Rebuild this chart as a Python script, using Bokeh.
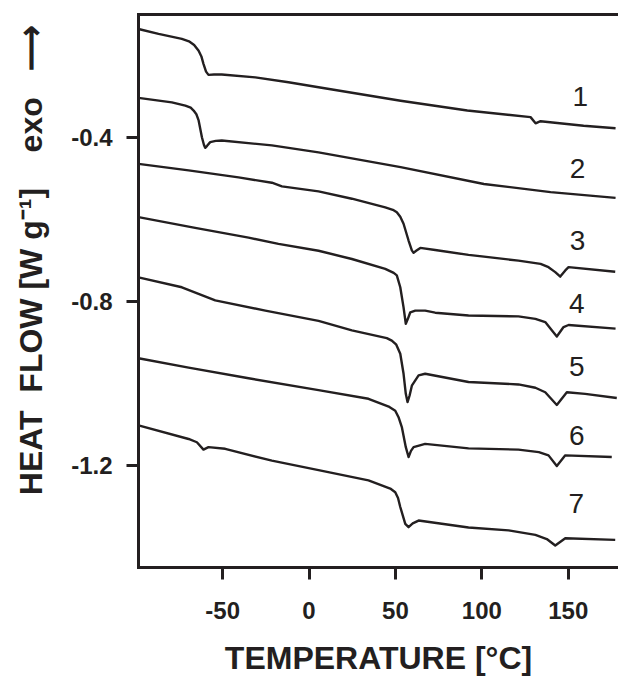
from bokeh.plotting import figure
from bokeh.models import Range1d, FixedTicker, LinearAxis
from bokeh.embed import file_html
from bokeh.resources import INLINE
from bokeh.core.properties import value

INK = "#231f20"

# ---- data (temperature in degC, heat flow in W/g) ----
temp_1 = [-98.7, -87.1, -73.6, -69.5, -66.5, -63.9, -62.3, -61.1, -59.6, -58.2, -55.0, -50.5, -31.1, -11.9, 5.5, 53.0, 91.6, 128.2, 131.1, 134.0, 158.9, 177.4]
flow_1 = [-0.136, -0.148, -0.160, -0.166, -0.175, -0.189, -0.203, -0.221, -0.240, -0.248, -0.247, -0.247, -0.254, -0.266, -0.278, -0.311, -0.335, -0.351, -0.366, -0.361, -0.372, -0.378]

temp_2 = [-98.7, -79.4, -71.6, -68.5, -66.8, -65.2, -63.9, -62.0, -60.8, -60.1, -59.0, -57.2, -54.0, -50.5, -21.5, 5.5, 53.0, 101.2, 139.8, 177.4]
flow_2 = [-0.304, -0.315, -0.323, -0.328, -0.335, -0.344, -0.359, -0.400, -0.419, -0.426, -0.421, -0.412, -0.409, -0.408, -0.420, -0.437, -0.473, -0.514, -0.534, -0.548]

temp_3 = [-98.7, -69.7, -40.8, -21.5, -15.7, 5.5, 24.8, 44.1, 48.5, 50.8, 52.8, 54.7, 57.6, 59.5, 60.5, 62.0, 64.4, 73.0, 92.3, 121.2, 134.0, 138.6, 142.5, 145.4, 148.3, 150.2, 177.2]
flow_3 = [-0.465, -0.481, -0.498, -0.511, -0.520, -0.532, -0.550, -0.571, -0.577, -0.583, -0.594, -0.611, -0.652, -0.676, -0.682, -0.677, -0.670, -0.675, -0.687, -0.701, -0.709, -0.717, -0.729, -0.740, -0.725, -0.717, -0.728]

temp_4 = [-98.7, -65.9, -35.0, -17.7, 5.5, 24.8, 44.1, 49.0, 50.8, 52.8, 54.7, 56.0, 57.2, 58.6, 61.5, 67.2, 73.0, 92.3, 121.2, 131.0, 136.7, 140.5, 143.4, 147.3, 150.2, 177.4]
flow_4 = [-0.595, -0.621, -0.645, -0.660, -0.677, -0.697, -0.721, -0.731, -0.737, -0.766, -0.815, -0.855, -0.843, -0.827, -0.823, -0.823, -0.828, -0.835, -0.837, -0.843, -0.851, -0.871, -0.886, -0.863, -0.858, -0.867]

temp_5 = [-98.7, -73.6, -54.3, -25.3, 5.5, 24.8, 45.0, 47.9, 50.5, 52.8, 54.7, 56.0, 57.0, 58.2, 59.5, 63.4, 67.2, 92.3, 121.2, 131.0, 136.7, 143.4, 149.2, 159.8, 178.1]
flow_5 = [-0.742, -0.766, -0.798, -0.823, -0.848, -0.871, -0.890, -0.896, -0.906, -0.928, -0.977, -1.026, -1.046, -1.030, -1.006, -0.981, -0.977, -0.997, -1.003, -1.011, -1.022, -1.053, -1.022, -1.026, -1.036]

temp_6 = [-98.7, -69.7, -35.0, 5.5, 34.4, 46.5, 49.9, 51.8, 53.7, 56.0, 57.6, 59.0, 60.5, 67.2, 92.3, 121.2, 133.0, 138.6, 143.4, 148.3, 175.2]
flow_6 = [-0.939, -0.962, -0.988, -1.017, -1.038, -1.058, -1.067, -1.083, -1.107, -1.156, -1.180, -1.165, -1.156, -1.148, -1.159, -1.162, -1.168, -1.176, -1.202, -1.176, -1.180]

temp_7 = [-98.7, -69.7, -64.9, -61.1, -58.2, -48.5, -21.5, 5.5, 34.4, 47.0, 49.9, 51.5, 52.8, 55.7, 57.6, 60.0, 63.4, 92.3, 115.5, 131.0, 137.6, 142.5, 148.3, 177.2]
flow_7 = [-1.103, -1.136, -1.144, -1.162, -1.156, -1.160, -1.189, -1.212, -1.237, -1.257, -1.266, -1.280, -1.302, -1.343, -1.351, -1.342, -1.335, -1.352, -1.359, -1.370, -1.380, -1.396, -1.378, -1.382]

curve_names = ["1", "2", "3", "4", "5", "6", "7"]
name_temp = [157.0, 155.4, 155.4, 155.0, 155.0, 155.0, 154.7]
name_flow = [-0.3015, -0.477, -0.652, -0.806, -0.959, -1.128, -1.294]

x_ticks = [-50, 0, 50, 100, 150]
x_tick_labels = ["-50", "0", "50", "100", "150"]
y_ticks = [-1.2, -0.8, -0.4]
y_tick_labels = ["-1.2", "-0.8", "-0.4"]

x_title = "TEMPERATURE [\u00b0C]"
NB = "\u00a0"
y_title = NB * 7 + "HEAT" + NB * 2 + "FLOW [W g\u207b\u00b9]" + NB * 4 + "exo" + NB * 3 + "\u27f6"

series = [(temp_1, flow_1), (temp_2, flow_2), (temp_3, flow_3), (temp_4, flow_4),
          (temp_5, flow_5), (temp_6, flow_6), (temp_7, flow_7)]

p = figure(width=618, height=679, output_backend="svg", toolbar_location=None,
           x_range=Range1d(-98.7, 179.1), y_range=Range1d(-1.4495, -0.1007),
           min_border_left=138, min_border_right=0, min_border_top=14,
           min_border_bottom=112)
p.grid.visible = False
p.outline_line_color = None
p.background_fill_color = "white"
p.border_fill_color = "white"

for ax in (p.xaxis[0], p.yaxis[0]):
    ax.axis_line_width = 3
    ax.axis_line_color = INK
    ax.axis_line_cap = "square"
    ax.major_tick_line_width = 3
    ax.major_tick_line_color = INK
    ax.major_tick_out = 12
    ax.major_tick_in = 0
    ax.minor_tick_out = 0
    ax.minor_tick_in = 0
    ax.major_label_text_font = "Liberation Sans"
    ax.major_label_text_font_style = "bold"
    ax.major_label_text_font_size = "24px"
    ax.major_label_text_color = INK
    ax.axis_label_text_font = "Liberation Sans"
    ax.axis_label_text_font_style = "bold"
    ax.axis_label_text_font_size = "32px"
    ax.axis_label_text_color = INK

p.xaxis[0].ticker = FixedTicker(ticks=x_ticks)
p.yaxis[0].ticker = FixedTicker(ticks=y_ticks)
p.xaxis[0].major_label_overrides = dict(zip(x_ticks, x_tick_labels))
p.yaxis[0].major_label_overrides = dict(zip(y_ticks, y_tick_labels))
p.xaxis[0].major_label_standoff = 22
p.yaxis[0].major_label_standoff = 14
p.xaxis[0].axis_label = x_title
p.yaxis[0].axis_label = y_title
p.xaxis[0].axis_label_standoff = 18
p.yaxis[0].axis_label_standoff = 19

top = LinearAxis(ticker=FixedTicker(ticks=[]), axis_line_width=3, axis_line_color=INK,
                 axis_line_cap="square",
                 major_tick_out=0, major_tick_in=0, minor_tick_out=0, minor_tick_in=0,
                 major_label_text_font_size="0px", major_label_standoff=0)
p.add_layout(top, "above")

for t, f in series:
    p.line(t, f, line_width=2.4, line_color=INK, line_join="round")

p.text(x=name_temp, y=name_flow, text=curve_names, text_font=value("Liberation Sans"),
       text_font_size="28px", text_align="center", text_baseline="middle", text_color=INK)

open("out.html", "w").write(file_html(p, INLINE))
